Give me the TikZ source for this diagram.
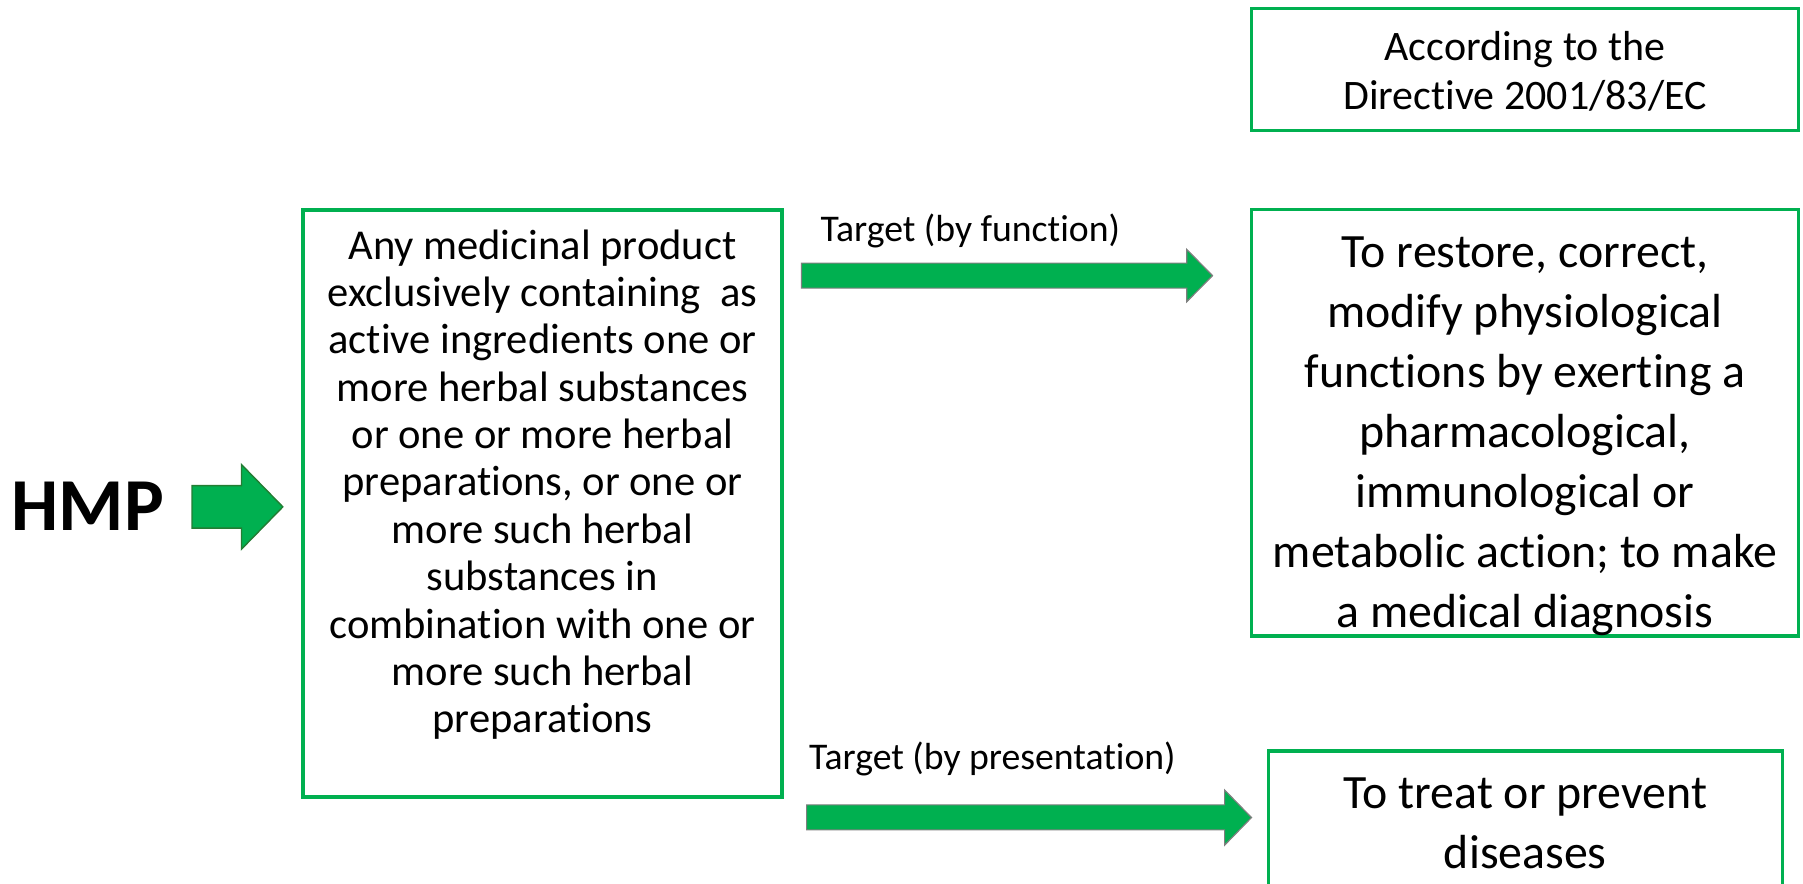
\documentclass[tikz,border=0pt]{standalone}
\usepackage{fontspec}
\setmainfont{Carlito}[Ligatures={NoCommon,NoRequired,NoContextual},RawFeature=-calt]
\definecolor{boxgreen}{HTML}{00B050}
\definecolor{arrowedge}{HTML}{7F7F7F}
\definecolor{hmpedge}{HTML}{237D33}
\begin{document}
\begin{tikzpicture}[x=1pt,y=-1pt,
  gbox/.style={draw=boxgreen, line width=3pt, fill=none, inner sep=0pt, rectangle},
  blockarrow/.style={fill=boxgreen, draw=arrowedge, line width=1pt, line join=miter},
  hmparrow/.style={fill=boxgreen, draw=hmpedge, line width=1.2pt, line join=miter},
  smalltext/.style={font=\fontsize{37}{41.2}\selectfont, align=center, inner sep=0pt, anchor=north},
  bigtext/.style={font=\fontsize{41.6}{52.3}\selectfont, align=center, inner sep=0pt, anchor=north},
  labeltext/.style={font=\fontsize{32.8}{38}\selectfont, inner sep=0pt, anchor=base west}
]
\useasboundingbox (0,0) rectangle (1568,768);
\clip (0,0) rectangle (1568,768);

% boxes
\node[gbox, minimum width=416.5pt, minimum height=510.5pt] (leftbox) at (471.75,437.75) {};
\node[gbox, minimum width=475.5pt, minimum height=371pt] (funcbox) at (1326.25,367.5) {};
\node[gbox, minimum width=475.5pt, minimum height=106pt] (dirbox) at (1326.25,60.5) {};
\node[gbox, minimum width=447pt, minimum height=177pt] (presbox) at (1326.5,741.5) {};

% texts
\node[font=\fontsize{65}{78}\selectfont\bfseries, inner sep=0pt, anchor=base west] (hmp) at (10,461) {HMP};

\node[smalltext] (lefttext) at (471.75,196.2) {\strut Any medicinal product\\
exclusively containing\ \ as\\
active ingredients one or\\
more herbal substances\\
or one or more herbal\\
preparations, or one or\\
more such herbal\\
substances in\\
combination with one or\\
more such herbal\\
preparations};

\node[bigtext] (functext) at (1326.25,195.5) {\strut To restore, correct,\\
modify physiological\\
functions by exerting a\\
pharmacological,\\
immunological or\\
metabolic action; to make\\
a medical diagnosis};

\node[font=\fontsize{36.5}{43}\selectfont, align=center, inner sep=0pt, anchor=north] (dirtext) at (1326.25,21.9) {\strut According to the\\
Directive 2001/83/EC};

\node[bigtext] (prestext) at (1326.5,666) {\strut To treat or prevent\\
diseases};

\node[labeltext] (funclabel) at (713.5,210) {Target (by function)};
\node[labeltext] (preslabel) at (703.5,669.6) {Target (by presentation)};

% block arrows
\draw[hmparrow] (167,422.3) -- (210,422.3) -- (210,404) -- (246,440.8) -- (210,477.6) -- (210,459.3) -- (167,459.3) -- cycle;
\draw[blockarrow] (697,228.8) -- (1032,228.8) -- (1032,216.8) -- (1054.5,239.7) -- (1032,262.5) -- (1032,250.6) -- (697,250.6) -- cycle;
\draw[blockarrow] (701.5,700) -- (1065,700) -- (1065,687) -- (1088.4,711) -- (1065,735) -- (1065,721.7) -- (701.5,721.7) -- cycle;
\end{tikzpicture}
\end{document}
